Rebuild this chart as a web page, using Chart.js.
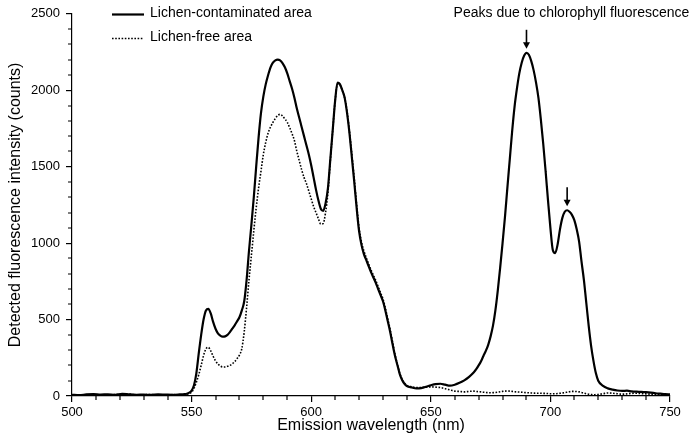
<!DOCTYPE html>
<html>
<head>
<meta charset="utf-8">
<script src="https://cdn.jsdelivr.net/npm/chart.js@4.4.0/dist/chart.umd.min.js"></script>
<style>
  html, body { margin: 0; padding: 0; background: #fff; }
  #wrap { width: 692px; height: 437px; }
</style>
</head>
<body>
<div id="wrap"><canvas id="c" width="692" height="437"></canvas></div>
<script>
// Emission wavelength grid (nm)
const wavelength = [
  500,503,506,509,512,515,518,521,524,527,530,533,536,539,542,545,547,548,549,
  550,551,552,553,554,555,556,557,558,559,
  560,561,562,563,564,565,566,567,568,569,
  570,571,572,573,574,575,576,577,578,579,
  580,581,582,583,584,585,586,587,588,589,
  590,591,592,593,594,595,596,597,598,599,
  600,601,602,603,604,605,606,607,608,609,
  610,611,612,613,614,615,616,617,618,619,
  620,621,622,623,624,625,626,627,628,629,
  630,631,632,633,634,635,636,637,638,639,
  640,
  642,644,646,648,650,652,654,656,658,660,662,664,666,668,
  669,670,671,672,673,674,675,676,677,678,
  679,680,681,682,683,684,685,686,687,688,
  689,690,691,692,693,694,695,696,697,698,
  699,700,701,702,703,704,705,706,707,708,
  709,710,711,712,713,714,715,716,717,718,
  719,720,
  722,724,726,728,730,732,734,736,738,740,742,744,746,748,750
];

// Detected counts, lichen-contaminated area
const contaminated = [
  8,6,10,12,9,11,8,14,10,8,9,7,10,9,8,10,12,15,22,
  35,70,150,280,400,500,560,570,540,485,
  440,410,395,388,390,400,418,440,462,488,
  515,560,620,760,950,1120,1300,1500,1690,1850,
  1960,2040,2100,2150,2180,2195,2200,2195,2178,2150,
  2110,2060,2010,1950,1880,1820,1760,1700,1640,1580,
  1510,1430,1350,1280,1225,1210,1260,1360,1550,1740,
  1930,2050,2040,2000,1950,1850,1720,1560,1400,1230,
  1080,990,930,890,850,810,775,740,700,660,
  620,560,490,420,340,265,205,145,105,80,
  65,
  56,50,52,60,70,78,80,74,68,74,86,102,125,155,
  175,200,228,262,295,335,390,460,560,690,
  840,1000,1170,1360,1545,1730,1890,2010,2110,2180,
  2225,2245,2232,2190,2130,2050,1950,1810,1650,1470,
  1280,1100,955,935,990,1090,1165,1205,1215,1205,
  1185,1150,1090,1010,880,760,610,460,330,230,
  150,100,
  66,50,42,36,33,35,30,28,27,25,22,18,15,12,10
];

// Detected counts, lichen-free area
const lichenFree = [
  5,8,6,9,7,5,10,8,12,6,8,10,7,6,9,7,9,12,16,
  25,50,90,140,200,265,308,318,295,260,
  230,210,196,190,190,194,200,210,225,245,
  268,310,420,580,760,920,1080,1230,1360,1470,
  1580,1660,1720,1760,1790,1815,1835,1842,1832,1812,
  1790,1755,1715,1670,1600,1540,1480,1430,1390,1340,
  1290,1240,1200,1160,1125,1128,1200,1330,1540,1740,
  1930,2040,2035,2000,1950,1860,1730,1580,1420,1250,
  1100,1010,950,905,865,825,790,755,715,675,
  635,575,505,435,355,275,210,150,110,85,
  70,
  60,55,55,58,60,58,55,48,40,32,30,27,30,32,
  30,28,27,25,23,22,21,22,23,25,
  28,30,32,33,32,30,28,27,26,25,
  23,22,21,20,19,18,18,18,17,17,
  16,15,15,15,16,18,20,22,25,28,
  30,30,29,27,23,19,15,12,10,8,
  9,10,
  15,20,18,15,12,14,17,18,16,14,12,10,9,8,8
];

const seriesNames = ['Lichen-contaminated area', 'Lichen-free area'];
const peakWavelengths = [690, 707];
const peakNote = 'Peaks due to chlorophyll fluorescence';
const xTitle = 'Emission wavelength (nm)';
const yTitle = 'Detected fluorescence intensity (counts)';

const FONT = '"Liberation Sans", Arial, Helvetica, sans-serif';

const toPoints = (ys) => wavelength.map((x, i) => ({ x: x, y: ys[i] }));
const plainLabel = (v) => String(v);

// Minor ticks, custom legend and peak arrows
const decorations = {
  id: 'decorations',
  afterDraw(chart) {
    const ctx = chart.ctx;
    const xs = chart.scales.x, ys = chart.scales.y;
    const area = chart.chartArea;
    ctx.save();
    ctx.strokeStyle = '#000';
    ctx.lineWidth = 1.2;
    // minor ticks
    ctx.beginPath();
    for (let v = 510; v < 750; v += 10) {
      if (v % 50 === 0) continue;
      const px = Math.round(xs.getPixelForValue(v));
      ctx.moveTo(px, area.bottom);
      ctx.lineTo(px, area.bottom + 4);
    }
    for (let v = 100; v < 2500; v += 100) {
      if (v % 500 === 0) continue;
      const py = Math.round(ys.getPixelForValue(v));
      ctx.moveTo(area.left, py);
      ctx.lineTo(area.left - 4, py);
    }
    ctx.stroke();

    // legend
    const items = chart.data.datasets;
    const lx0 = 112, lx1 = 144, textX = 150;
    const rows = [14.5, 38.5];
    ctx.font = '14px ' + FONT;
    ctx.fillStyle = '#000';
    ctx.textBaseline = 'middle';
    ctx.textAlign = 'left';
    items.forEach((ds, i) => {
      ctx.save();
      ctx.lineWidth = ds.borderWidth;
      ctx.setLineDash(ds.borderDash || []);
      ctx.beginPath();
      ctx.moveTo(lx0, rows[i]);
      ctx.lineTo(lx1, rows[i]);
      ctx.stroke();
      ctx.restore();
      ctx.fillText(ds.label, textX, rows[i] - 1);
    });

    // note and arrows
    ctx.textAlign = 'center';
    ctx.fillText(peakNote, 571.5, 13.5);
    peakWavelengths.forEach((w) => {
      const idx = wavelength.indexOf(w);
      const px = xs.getPixelForValue(w);
      const tip = ys.getPixelForValue(contaminated[idx]) - 4;
      ctx.lineWidth = 1.6;
      ctx.beginPath();
      ctx.moveTo(px, tip - 19);
      ctx.lineTo(px, tip - 5);
      ctx.stroke();
      ctx.beginPath();
      ctx.moveTo(px - 3.5, tip - 6.5);
      ctx.lineTo(px + 3.5, tip - 6.5);
      ctx.lineTo(px, tip);
      ctx.closePath();
      ctx.fill();
    });
    ctx.restore();
  }
};

new Chart(document.getElementById('c'), {
  type: 'line',
  data: {
    datasets: [
      {
        label: seriesNames[0],
        data: toPoints(contaminated),
        borderColor: '#000',
        borderWidth: 2.2,
        pointRadius: 0,
        cubicInterpolationMode: 'monotone',
        fill: false
      },
      {
        label: seriesNames[1],
        data: toPoints(lichenFree),
        borderColor: '#000',
        borderWidth: 1.6,
        borderDash: [1.6, 1.6],
        pointRadius: 0,
        cubicInterpolationMode: 'monotone',
        fill: false
      }
    ]
  },
  options: {
    responsive: false,
    animation: false,
    events: [],
    layout: { padding: { top: 13, right: 22, left: 0, bottom: 0 } },
    plugins: { legend: { display: false }, tooltip: { enabled: false } },
    scales: {
      x: {
        type: 'linear',
        min: 500, max: 750,
        afterFit: (s) => { s.height = 41; },
        ticks: { stepSize: 50, color: '#000', font: { family: FONT, size: 13 }, padding: 3, maxRotation: 0, callback: plainLabel },
        grid: { drawOnChartArea: false, drawTicks: true, tickLength: 6, color: '#000', lineWidth: 1.2 },
        border: { display: true, color: '#000', width: 1.2 },
        title: { display: true, text: xTitle, color: '#000', font: { family: FONT, size: 16 }, padding: { top: 0, bottom: 2 } }
      },
      y: {
        min: 0, max: 2500,
        afterFit: (s) => { s.width = 72; },
        ticks: { stepSize: 500, color: '#000', font: { family: FONT, size: 13 }, padding: 6, callback: plainLabel },
        grid: { drawOnChartArea: false, drawTicks: true, tickLength: 6, color: '#000', lineWidth: 1.2 },
        border: { display: true, color: '#000', width: 1.2 },
        title: { display: true, text: yTitle, color: '#000', font: { family: FONT, size: 16 }, padding: { top: 6, bottom: 0 } }
      }
    }
  },
  plugins: [decorations]
});
</script>
</body>
</html>
